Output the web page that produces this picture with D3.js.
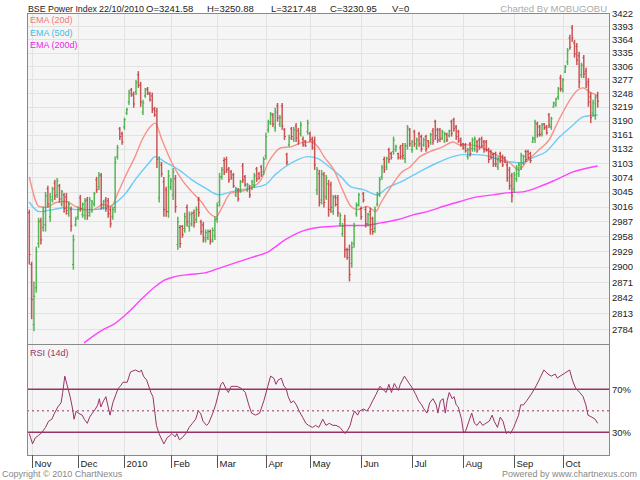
<!DOCTYPE html>
<html>
<head>
<meta charset="utf-8">
<script src="https://cdn.jsdelivr.net/npm/d3@7"></script>
<style>
  body { margin: 0; background: #fff; }
  svg text { font-family: "Liberation Sans", Arial, sans-serif; }
</style>
</head>
<body>
<svg id="chart" width="640" height="480"></svg>
<script>
// --- Data ---
const monthLabels = ['Nov', 'Dec', '2010', 'Feb', 'Mar', 'Apr', 'May', 'Jun', 'Jul', 'Aug', 'Sep', 'Oct'];
const monthStart = [1, 21, 41, 61, 81, 102, 121, 143, 165, 187, 209, 230];
const priceTicks = [3422, 3393, 3364, 3335, 3306, 3277, 3248, 3219, 3190, 3161, 3132, 3103, 3074,
  3045, 3016, 2987, 2958, 2929, 2900, 2871, 2842, 2813, 2784];

const barHigh = [
  3010, 2909, 2872, 2938, 2994, 2994, 3016, 3045, 3057, 3043,
  3055, 3069, 3073, 3061, 3049, 3043, 3043, 3026, 3016, 2961,
  2996, 3016, 3039, 3024, 3033, 3035, 3035, 3029, 3045, 3075,
  3085, 3083, 3029, 3035, 3033, 3016, 3016, 3116, 3140, 3177,
  3167, 3196, 3217, 3255, 3259, 3251, 3276, 3295, 3272, 3234,
  3259, 3261, 3251, 3249, 3219, 3217, 3116, 3105, 3075, 3055,
  3089, 3073, 3093, 3079, 2996, 2980, 2980, 3004, 3020, 3006,
  3006, 3010, 3016, 3035, 2990, 2986, 2971, 2971, 2971, 2975,
  2996, 3024, 3083, 3095, 3114, 3116, 3095, 3089, 3083, 3055,
  3053, 3069, 3103, 3079, 3063, 3059, 3069, 3083, 3095, 3085,
  3099, 3116, 3165, 3192, 3208, 3206, 3217, 3227, 3202, 3227,
  3175, 3124, 3161, 3177, 3177, 3185, 3175, 3188, 3157, 3150,
  3192, 3167, 3157, 3157, 3095, 3089, 3089, 3085, 3079, 3069,
  3065, 3039, 3039, 3039, 3004, 2984, 3000, 2936, 2942, 2948,
  2984, 3024, 3043, 3016, 3045, 3016, 3004, 3014, 2996, 3016,
  3045, 3075, 3099, 3116, 3116, 3134, 3126, 3157, 3140, 3124,
  3140, 3144, 3144, 3181, 3175, 3150, 3171, 3155, 3167, 3161,
  3155, 3161, 3150, 3165, 3175, 3192, 3175, 3175, 3171, 3167,
  3165, 3171, 3192, 3196, 3181, 3171, 3155, 3144, 3144, 3134,
  3146, 3155, 3157, 3150, 3155, 3157, 3150, 3150, 3134, 3130,
  3124, 3126, 3116, 3126, 3120, 3116, 3105, 3095, 3083, 3085,
  3099, 3105, 3124, 3120, 3130, 3130, 3126, 3157, 3192, 3188,
  3181, 3185, 3185, 3181, 3206, 3198, 3230, 3238, 3261, 3287,
  3280, 3308, 3345, 3374, 3396, 3363, 3356, 3337, 3313, 3330,
  3302, 3280, 3249, 3234, 3244, 3250.88
];
const barLow = [
  2904, 2802, 2780, 2851, 2936, 2942, 2967, 2967, 3014, 2986,
  3024, 3029, 3033, 3024, 3016, 3004, 3000, 2996, 2967, 2894,
  2977, 2990, 3006, 2994, 2990, 2990, 2996, 3004, 3016, 3043,
  3049, 3010, 3010, 3006, 2994, 2975, 2990, 3004, 3110, 3150,
  3140, 3171, 3202, 3223, 3240, 3217, 3244, 3259, 3219, 3202,
  3238, 3244, 3230, 3206, 3198, 3093, 3024, 3075, 2996, 2996,
  2994, 3049, 3029, 3004, 2932, 2936, 2955, 2965, 2977, 2967,
  2977, 2975, 2984, 2996, 2961, 2946, 2946, 2951, 2942, 2946,
  2951, 2984, 3016, 3069, 3079, 3083, 3063, 3069, 3053, 3035,
  3026, 3043, 3063, 3055, 3045, 3033, 3049, 3053, 3065, 3069,
  3075, 3079, 3110, 3165, 3181, 3177, 3167, 3188, 3177, 3171,
  3150, 3099, 3136, 3150, 3146, 3146, 3140, 3157, 3136, 3136,
  3161, 3146, 3130, 3089, 3039, 3016, 3020, 3014, 3029, 2996,
  3004, 3000, 3016, 2996, 2977, 2957, 2917, 2913, 2872, 2898,
  2936, 2996, 3016, 2990, 3024, 2975, 2977, 2961, 2961, 2965,
  3016, 3035, 3069, 3083, 3089, 3103, 3110, 3120, 3126, 3110,
  3110, 3110, 3103, 3130, 3136, 3124, 3136, 3130, 3136, 3126,
  3136, 3126, 3134, 3140, 3140, 3150, 3144, 3146, 3150, 3144,
  3146, 3155, 3157, 3167, 3150, 3144, 3136, 3130, 3124, 3110,
  3116, 3126, 3126, 3124, 3130, 3134, 3124, 3126, 3103, 3110,
  3095, 3095, 3089, 3103, 3095, 3103, 3065, 3049, 3024, 3043,
  3065, 3075, 3089, 3099, 3105, 3110, 3103, 3144, 3144, 3155,
  3157, 3157, 3171, 3161, 3175, 3171, 3217, 3219, 3234, 3251,
  3249, 3291, 3308, 3341, 3358, 3324, 3308, 3259, 3280, 3280,
  3259, 3219, 3185, 3198, 3192, 3217.48
];
const barOpen = [
  3004, 2904, 2792, 2860, 2944, 2988, 2975, 2980, 3051, 2996,
  3029, 3063, 3039, 3057, 3021, 3039, 3035, 3002, 3010, 2904,
  2980, 2996, 3033, 3000, 2998, 3029, 3004, 3010, 3021, 3069,
  3055, 3077, 3014, 3029, 3027, 3010, 2996, 3014, 3116, 3173,
  3163, 3177, 3206, 3229, 3255, 3246, 3251, 3287, 3265, 3208,
  3242, 3257, 3246, 3242, 3215, 3210, 3033, 3099, 3065, 3049,
  3006, 3055, 3039, 3071, 2942, 2975, 2977, 2973, 3014, 2977,
  2982, 3004, 2990, 3029, 2986, 2980, 2951, 2955, 2967, 2951,
  2959, 2992, 3025, 3075, 3108, 3110, 3091, 3085, 3079, 3039,
  3049, 3049, 3097, 3075, 3049, 3055, 3053, 3059, 3091, 3081,
  3095, 3085, 3118, 3171, 3188, 3202, 3175, 3221, 3183, 3221,
  3171, 3120, 3140, 3173, 3152, 3179, 3169, 3163, 3152, 3148,
  3167, 3163, 3152, 3148, 3049, 3081, 3029, 3079, 3035, 3061,
  3059, 3006, 3035, 3033, 2982, 2963, 2990, 2932, 2932, 2906,
  2944, 3002, 3020, 3012, 3041, 3010, 2982, 3006, 2992, 2973,
  3021, 3041, 3075, 3110, 3095, 3130, 3122, 3126, 3130, 3122,
  3134, 3138, 3112, 3138, 3171, 3130, 3167, 3134, 3163, 3157,
  3140, 3157, 3148, 3144, 3169, 3188, 3171, 3171, 3154, 3148,
  3161, 3159, 3188, 3192, 3177, 3167, 3152, 3142, 3140, 3116,
  3142, 3132, 3132, 3146, 3150, 3152, 3146, 3146, 3130, 3126,
  3120, 3122, 3095, 3122, 3116, 3114, 3099, 3089, 3077, 3051,
  3071, 3081, 3095, 3103, 3126, 3126, 3122, 3146, 3152, 3183,
  3177, 3163, 3183, 3177, 3202, 3177, 3219, 3223, 3240, 3280,
  3255, 3293, 3315, 3367, 3389, 3356, 3349, 3328, 3287, 3324,
  3295, 3272, 3240, 3206, 3200, 3241.58
];
const barClose = [
  2923, 2838, 2844, 2928, 2986, 2951, 3006, 3037, 3021, 3035,
  3051, 3037, 3067, 3031, 3045, 3012, 3008, 3020, 2978, 2951,
  2992, 3010, 3012, 3020, 3027, 2998, 3029, 3025, 3041, 3049,
  3079, 3020, 3025, 3012, 3002, 2982, 3010, 3105, 3134, 3157,
  3146, 3192, 3213, 3248, 3244, 3225, 3270, 3265, 3229, 3227,
  3255, 3248, 3234, 3213, 3202, 3110, 3105, 3081, 3010, 3006,
  3077, 3067, 3085, 3016, 2986, 2944, 2961, 2996, 2986, 3000,
  3002, 2984, 3010, 3004, 2967, 2955, 2965, 2967, 2948, 2969,
  2990, 3018, 3075, 3089, 3085, 3089, 3069, 3073, 3057, 3051,
  3031, 3065, 3069, 3059, 3059, 3039, 3065, 3077, 3071, 3073,
  3079, 3110, 3157, 3185, 3204, 3183, 3208, 3196, 3196, 3179,
  3157, 3105, 3154, 3157, 3171, 3154, 3148, 3181, 3140, 3138,
  3185, 3150, 3134, 3099, 3089, 3024, 3081, 3024, 3073, 3010,
  3014, 3033, 3020, 3004, 2998, 2978, 2932, 2917, 2885, 2936,
  2977, 3018, 3039, 2996, 3029, 2982, 3000, 2971, 2967, 3010,
  3039, 3069, 3093, 3089, 3112, 3110, 3114, 3150, 3136, 3114,
  3116, 3118, 3138, 3175, 3142, 3146, 3142, 3150, 3142, 3132,
  3150, 3132, 3138, 3161, 3148, 3159, 3150, 3152, 3167, 3163,
  3150, 3169, 3163, 3173, 3157, 3148, 3140, 3134, 3128, 3130,
  3122, 3150, 3152, 3128, 3134, 3138, 3130, 3130, 3110, 3114,
  3101, 3101, 3112, 3108, 3099, 3105, 3073, 3057, 3037, 3079,
  3093, 3099, 3118, 3116, 3110, 3114, 3108, 3154, 3185, 3161,
  3161, 3181, 3175, 3165, 3181, 3194, 3227, 3236, 3257, 3257,
  3276, 3304, 3339, 3347, 3367, 3332, 3319, 3272, 3308, 3289,
  3267, 3229, 3196, 3227, 3238, 3230.95
];

const ema20Day = [0, 4.2, 7.2, 11.5, 15.8, 20.1, 24.4, 27.5, 31.8, 35.2, 38.2, 41.7, 45.6, 48.6, 52.9, 54.2,
  57.2, 61.5, 65.8, 70.1, 74.4, 77.5, 80.5, 82.8, 86.9, 90, 95.6, 99.9, 102.9, 105.9, 108.5, 112.8, 117.1,
  121.4, 124.4, 127, 131.3, 135.6, 138.7, 141.3, 145.6, 149.4, 151.6, 155.9, 160.2, 164.1, 168.4, 172.7,
  178.3, 182.6, 185.6, 189.9, 194.3, 198.6, 202.9, 207.2, 211.1, 214.1, 219.7, 224, 228.3, 232.2, 235.6,
  238.7, 241.3, 245];
const ema20Val = [3075, 3016, 3014, 3024, 3026, 3016, 3010, 3010, 3020, 3016, 3043, 3079, 3116, 3150, 3181, 3185,
  3150, 3103, 3069, 3045, 3024, 3004, 2996, 3012, 3043, 3045, 3053, 3069, 3103, 3124, 3134, 3136, 3144,
  3146, 3136, 3116, 3089, 3043, 3016, 3010, 3016, 3006, 3024, 3055, 3083, 3095, 3116, 3126,
  3136, 3146, 3140, 3140, 3136, 3126, 3116, 3103, 3089, 3105, 3130, 3150, 3192, 3227, 3251,
  3259, 3251, 3243];

const ema50Day = [0, 4.2, 10.2, 15.8, 20.1, 27.5, 34.4, 38.7, 41.7, 45.6, 51.6, 54.2, 58.5, 64.5, 70.1, 75.7,
  81.8, 86.9, 95.6, 101.6, 105.9, 110.2, 115.8, 120.1, 124.4, 128.3, 134.4, 138.7, 144.3, 149.9, 154.2,
  160.2, 165.8, 169.7, 175.7, 181.3, 186.9, 193, 198.6, 204.2, 208.1, 211.9, 217.1, 222.7, 228.3, 234.4,
  238.7, 245];
const ema50Val = [3025, 3006, 3010, 3014, 3010, 3010, 3016, 3029, 3043, 3069, 3103, 3116, 3105, 3089, 3069, 3053,
  3039, 3045, 3053, 3059, 3079, 3095, 3110, 3116, 3112, 3099, 3075, 3055, 3049, 3039, 3053,
  3065, 3079, 3089, 3103, 3114, 3120, 3120, 3116, 3107, 3105, 3103, 3114, 3126, 3155, 3181,
  3198, 3202];

const ema200Day = [23.6, 31.8, 36.1, 41.7, 48.6, 54.2, 58.5, 62.8, 68.8, 75.7, 81.3, 88.7, 95.6, 102.9, 110.2,
  117.1, 124.4, 130, 136.9, 144.3, 151.6, 158.5, 165.8, 171.4, 178.3, 185.6, 193, 199.9, 205.5, 212.8,
  219.7, 226.9, 234.4, 245];
const ema200Val = [2759, 2783, 2792, 2811, 2840, 2862, 2875, 2881, 2885, 2888, 2896, 2907, 2917, 2928, 2951,
  2967, 2975, 2977, 2979, 2979, 2984, 2990, 3000, 3006, 3016, 3026, 3035, 3039, 3043, 3045,
  3055, 3069, 3085, 3097];

const rsiDay = [0, 1.4, 2.6, 3.9, 5.3, 7, 8.3, 9.7, 10.9, 12.3, 13.7, 14.4, 15.3, 16.2, 17.6, 18.5, 19.3, 20.2,
  21.1, 22.8, 23.7, 25, 26, 27.2, 28.5, 29.5, 30.2, 30.8, 32, 33, 34.8, 36, 37.3, 38.3, 39.2, 40.4, 42.2,
  43.6, 45.7, 47.5, 48.3, 49.2, 50.6, 52.4, 53.3, 54.8, 55.9, 58, 59.4, 60.6, 61.5, 62.9, 63.6, 64.7, 65.9,
  67.7, 68.9, 70.3, 71.7, 72.8, 73.8, 74.9, 76.4, 77.3, 79.1, 80.3, 81.2, 82.6, 83.5, 84.7, 85.8, 87, 88.2,
  89.6, 91.4, 93.1, 94.6, 95.8, 97.5, 99.3, 101.1, 102.8, 104, 105.4, 106.3, 107.2, 108.6, 109.8, 110.7,
  111.6, 112.8, 113.9, 115.1, 116.3, 117.8, 119.2, 120.4, 122.1, 123.4, 124.8, 126.5, 127.9, 129.3, 130.9,
  132.2, 133.9, 135.3, 136.2, 137.4, 138.3, 139.2, 140.2, 141.5, 142.4, 144.1, 145.5, 146.7, 148, 149.4,
  151.1, 152, 153.8, 155, 156.1, 157.3, 159.1, 159.9, 161.7, 163.4, 165.2, 166.6, 167.8, 169.1, 170.1,
  171.4, 172.6, 174, 175.4, 176.1, 177.2, 178.4, 179.3, 180.1, 181, 182.3, 183.1, 184, 184.9, 186.3, 187.2,
  188, 189.5, 190.7, 191.9, 193, 194.2, 195.4, 196.8, 198.2, 199.5, 200.4, 201.8, 203, 204.2, 205.6, 206.5,
  207.4, 208.8, 209.5, 210.9, 211.8, 213, 214.4, 216.2, 217.9, 219.7, 221.8, 223.6, 225, 226.7, 227.6,
  228.8, 230.2, 232.9, 234.1, 235.5, 237.3, 238.7, 239.9, 240.8, 242.5, 243.9, 245];
const rsiVal = [28.9, 19.3, 25, 27, 29.6, 34.6, 40.3, 42.2, 47.9, 53.6, 57.4, 67, 82.2, 74.6, 63.1, 53.6, 42.2, 49.8,
  47.9, 46, 42.2, 38.4, 44.1, 47.9, 51.7, 55.5, 61.2, 53.6, 59.3, 63.1, 46, 57.4, 65, 70.8, 72.7, 76.5, 76.5,
  86, 87.9, 86, 87.9, 82.2, 78.4, 67, 63.1, 36.5, 28.9, 19.3, 25, 27, 28.9, 25.8, 28.9, 23.1, 25,
  29.6, 34.6, 38.4, 42.2, 49.8, 47.9, 40.3, 36.5, 38.4, 47.9, 55.5, 63.1, 74.6, 76.5, 70.8, 67, 72.7, 72.7,
  72.7, 70.8, 67, 55.5, 47.9, 46, 47.9, 59.3, 72.7, 82.2, 80.3, 74.6, 78.4, 80.3, 72.7, 70.8,
  63.1, 57.4, 59.3, 55.5, 49.8, 44.1, 38.4, 36.5, 34.6, 36.5, 34.6, 42.2, 36.5, 38.4, 36.5,
  36.5, 34.6, 30.8, 28.9, 32.7, 36.5, 44.1, 49.8, 46, 49.8, 51.7, 49.8, 53.6, 59.3, 65,
  72.7, 70.8, 67, 74.6, 67, 75.3, 68.9, 74.6, 82.2, 76.5, 70.8, 65, 59.3, 55.5, 51.7,
  47.9, 57.4, 61.2, 55.5, 47.9, 59.3, 61.2, 47.9, 59.3, 67, 61.2, 63.1, 55.5, 53.6, 42.2, 29.6,
  30.8, 40.3, 47.9, 38.4, 36.5, 40.3, 36.5, 38.4, 40.3, 46, 40.3, 34.6, 44.1, 40.3, 28.9, 30.8,
  28.9, 34.6, 38.4, 46, 55.5, 55.5, 59.3, 65, 70.8, 78.4, 87.9, 84.1, 82.2, 84.1, 80.3,
  82.2, 84.1, 87.9, 78.4, 70.8, 67, 63.1, 55.5, 46, 44.1, 42.2, 38.4];
const rsiLevels = [70, 30];

// --- Layout ---
const svg = d3.select('#chart');
const plot = { left: 27, right: 609, top: 13, mid: 344, bottom: 455 };

const x = d3.scaleLinear().domain([0, barHigh.length - 1]).range([29.3, 597.7]);
const y = d3.scaleLog().domain([2757, 3422]).range([plot.mid, 13.2]);
const yR = d3.scaleLinear().domain([9, 112]).range([plot.bottom, plot.mid]);

const GRID = '#e2e2e2', FRAME = '#8a8a8a', RSI_COL = '#993366';

// panels
[[plot.top, plot.mid], [plot.mid, plot.bottom]].forEach(([t, b]) => {
  svg.append('rect').attr('x', plot.left).attr('y', t)
    .attr('width', plot.right - plot.left).attr('height', b - t)
    .attr('fill', '#f5f5f5');
});

// grid
svg.append('g').selectAll('line').data(priceTicks).join('line')
  .attr('x1', plot.left).attr('x2', plot.right)
  .attr('y1', d => Math.round(y(d)) + 0.5).attr('y2', d => Math.round(y(d)) + 0.5)
  .attr('stroke', GRID);
svg.append('g').selectAll('line').data(monthStart).join('line')
  .attr('x1', d => Math.round(x(d)) + 0.5).attr('x2', d => Math.round(x(d)) + 0.5)
  .attr('y1', plot.top).attr('y2', plot.bottom)
  .attr('stroke', GRID);

svg.append('defs').append('clipPath').attr('id', 'mainClip')
  .append('rect').attr('x', plot.left).attr('y', plot.top)
  .attr('width', plot.right - plot.left).attr('height', plot.mid - plot.top);

// EMA lines
const emaLine = (days, vals, color) => {
  const pts = days.map((d, i) => [d, vals[i]]);
  svg.append('path').datum(pts)
    .attr('clip-path', 'url(#mainClip)')
    .attr('fill', 'none').attr('stroke', color).attr('stroke-width', 1.4)
    .attr('d', d3.line().x(p => x(p[0])).y(p => y(p[1])).curve(d3.curveMonotoneX));
};
emaLine(ema200Day, ema200Val, '#ff44ff');
emaLine(ema50Day, ema50Val, '#6cccf6');
emaLine(ema20Day, ema20Val, '#f7928a');

// OHLC bars
const bars = svg.append('g').attr('clip-path', 'url(#mainClip)');
barHigh.forEach((h, i) => {
  const up = barClose[i] >= barOpen[i];
  const col = up ? '#3daa3d' : '#c23b3b';
  const cx = x(i);
  bars.append('line').attr('x1', cx).attr('x2', cx)
    .attr('y1', y(h)).attr('y2', y(barLow[i]))
    .attr('stroke', col).attr('stroke-width', 1.5).attr('stroke-opacity', 0.85);
  bars.append('line').attr('x1', cx - 1.3).attr('x2', cx)
    .attr('y1', y(barOpen[i])).attr('y2', y(barOpen[i]))
    .attr('stroke', col).attr('stroke-width', 1);
  bars.append('line').attr('x1', cx).attr('x2', cx + 1.3)
    .attr('y1', y(barClose[i])).attr('y2', y(barClose[i]))
    .attr('stroke', col).attr('stroke-width', 1);
});

// RSI
svg.append('line').attr('x1', plot.left).attr('x2', plot.right)
  .attr('y1', yR(50)).attr('y2', yR(50))
  .attr('stroke', RSI_COL).attr('stroke-dasharray', '2,3');
svg.append('g').selectAll('line').data(rsiLevels).join('line')
  .attr('x1', plot.left).attr('x2', plot.right)
  .attr('y1', d => yR(d)).attr('y2', d => yR(d))
  .attr('stroke', RSI_COL).attr('stroke-width', 1.5);
svg.append('path').datum(rsiDay.map((d, i) => [d, rsiVal[i]]))
  .attr('fill', 'none').attr('stroke', RSI_COL).attr('stroke-width', 1)
  .attr('d', d3.line().x(p => x(p[0])).y(p => yR(p[1])));

// frames
[[plot.top, plot.mid], [plot.mid, plot.bottom]].forEach(([t, b]) => {
  svg.append('rect').attr('x', plot.left + 0.5).attr('y', t + 0.5)
    .attr('width', plot.right - plot.left).attr('height', b - t)
    .attr('fill', 'none').attr('stroke', FRAME);
});

// right axis
const yAxis = svg.append('g').attr('transform', `translate(${plot.right},0)`)
  .call(d3.axisRight(y).tickValues(priceTicks).tickSize(0).tickPadding(3).tickFormat(d3.format('d')));
yAxis.select('.domain').remove();
yAxis.selectAll('text').attr('font-size', 9.5).attr('fill', '#222');

svg.append('g').selectAll('text').data(rsiLevels).join('text')
  .attr('x', plot.right + 3).attr('y', d => yR(d)).attr('dy', '0.35em')
  .attr('font-size', 9.5).attr('fill', '#222').text(d => d + '%');

// bottom axis
const xAxis = svg.append('g').attr('transform', `translate(0,${plot.bottom})`);
monthStart.forEach((m, k) => {
  const px = Math.round(x(m)) + 0.5;
  xAxis.append('line').attr('x1', px).attr('x2', px).attr('y1', 0).attr('y2', 13).attr('stroke', '#555');
  xAxis.append('text').attr('x', px + 2).attr('y', 12).attr('font-size', 9.5).attr('fill', '#222')
    .text(monthLabels[k]);
});

// legends
const legend = [['EMA (20d)', '#f07870'], ['EMA (50d)', '#3fbde8'], ['EMA (200d)', '#ee22ee']];
svg.append('g').selectAll('text').data(legend).join('text')
  .attr('x', 30).attr('y', (d, i) => 23 + i * 12.5)
  .attr('font-size', 9).attr('fill', d => d[1]).text(d => d[0]);
svg.append('text').attr('x', 30).attr('y', 356).attr('font-size', 9).attr('fill', RSI_COL).text('RSI (14d)');

// header: [text, x, font size]
const header = [['BSE Power Index', 28, 8.8], ['22/10/2010', 99, 9], ['O=3241.58', 146, 9.5],
  ['H=3250.88', 207, 9.5], ['L=3217.48', 271, 9.5], ['C=3230.95', 330, 9.5], ['V=0', 392, 9.5]];
svg.append('g').selectAll('text').data(header).join('text')
  .attr('x', d => d[1]).attr('y', 12).attr('font-size', d => d[2]).attr('fill', '#222').text(d => d[0]);
svg.append('text').attr('x', 607).attr('y', 12).attr('text-anchor', 'end')
  .attr('font-size', 9.5).attr('fill', '#aaa').text('Charted By MOBUGOBU');

svg.append('text').attr('x', 2).attr('y', 477).attr('font-size', 9).attr('fill', '#888')
  .text('Copyright \u00a9 2010 ChartNexus');
svg.append('text').attr('x', 637).attr('y', 477).attr('text-anchor', 'end').attr('font-size', 9)
  .attr('fill', '#888').text('Powered by www.chartnexus.com');
</script>
</body>
</html>
